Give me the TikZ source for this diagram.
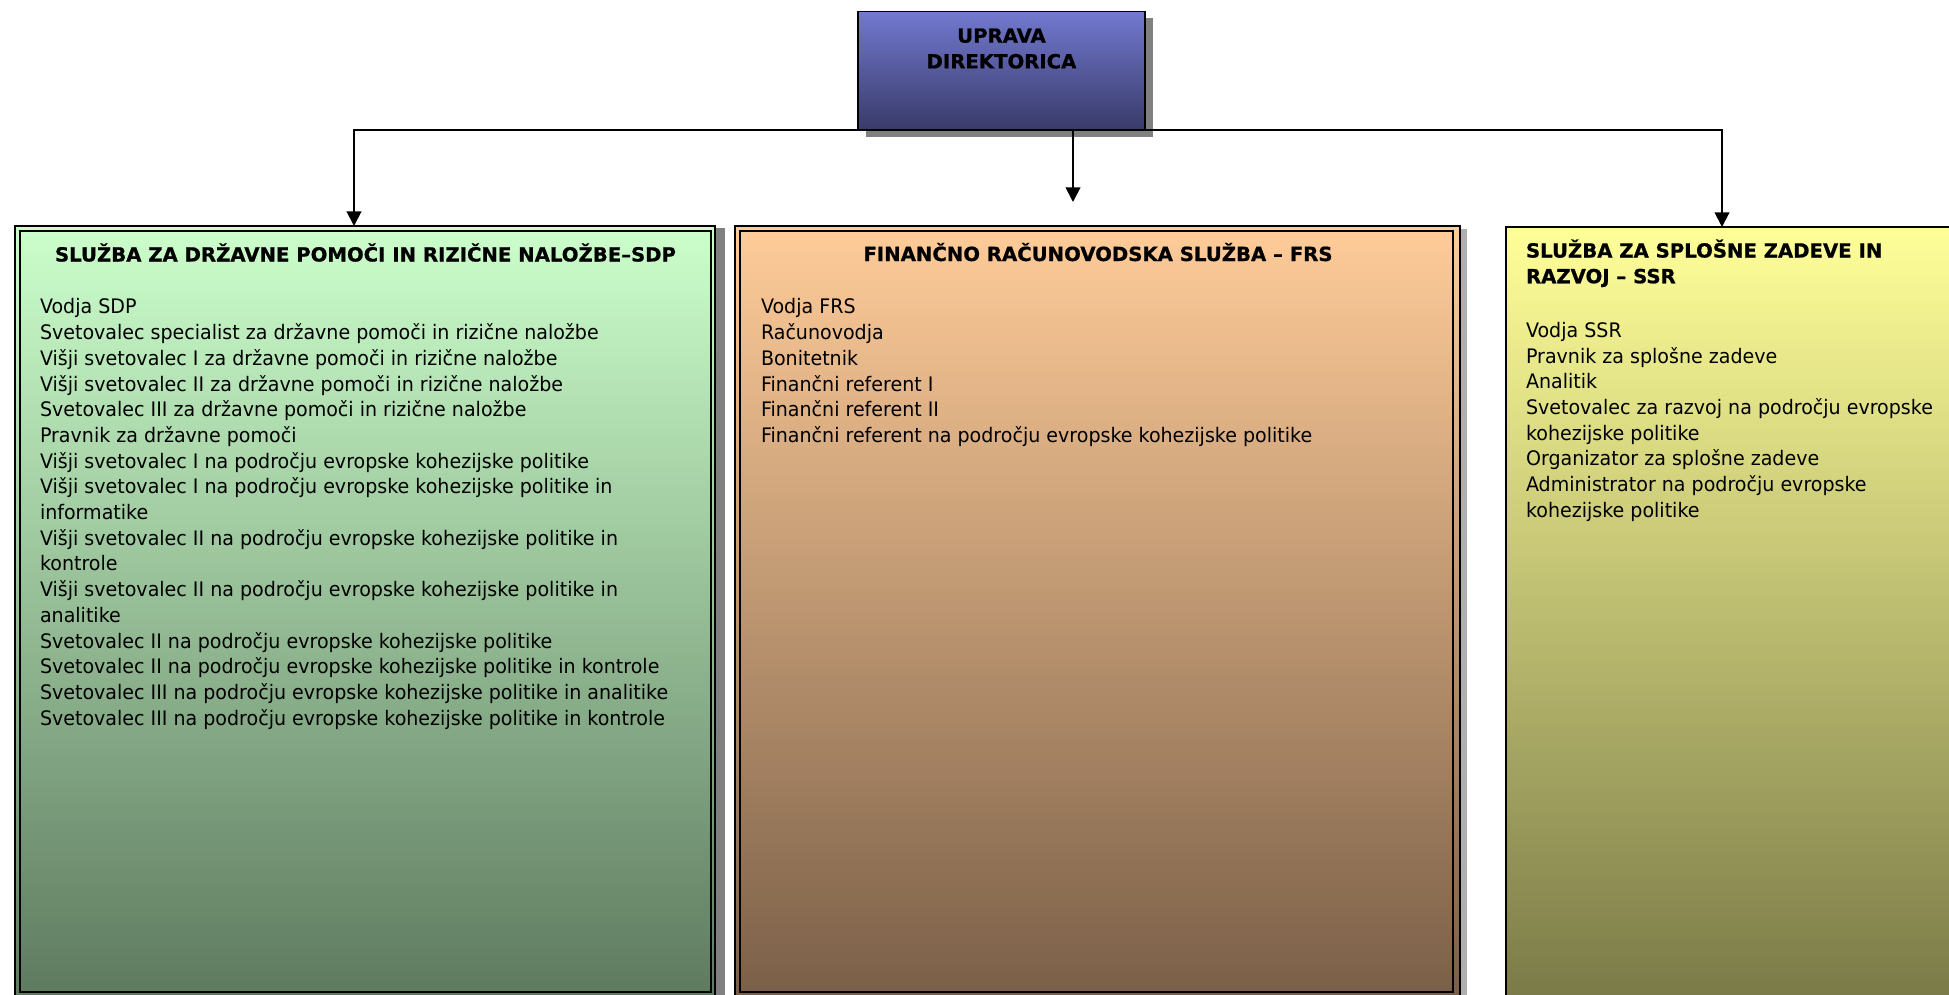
\documentclass[tikz,border=0pt]{standalone}
\usepackage{fontspec}
\setmainfont{DejaVu Sans}[BoldFeatures={FakeBold=0.8}]
\usetikzlibrary{arrows.meta,shadows}
\definecolor{upTop}{RGB}{114,121,207}
\definecolor{upBot}{RGB}{56,58,104}
\definecolor{gTop}{RGB}{204,255,204}
\definecolor{gBot}{RGB}{94,122,95}
\definecolor{oTop}{RGB}{255,204,153}
\definecolor{oBot}{RGB}{122,95,72}
\definecolor{yTop}{RGB}{255,255,153}
\definecolor{yBot}{RGB}{122,122,72}
\definecolor{shadowA}{RGB}{128,128,128}
\definecolor{shadowB}{RGB}{175,175,175}
\newlength\wreg
\newlength\wbold
\newcommand\regfnt{\fontsize{15}{19.275}\selectfont}
\newcommand\boldfnt{\fontsize{14.6}{19.275}\selectfont\bfseries}
\begin{document}
\settowidth\wreg{\regfnt Svetovalec III na področju evropske kohezijske politike in kontrole}%
\settowidth\wbold{\boldfnt SLUŽBA ZA DRŽAVNE POMOČI IN RIZIČNE NALOŽBE–SDP}%
\pgfmathsetmacro\regfac{468.75/\wreg}%
\pgfmathsetmacro\boldfac{465.75/\wbold}%
\begin{tikzpicture}[x=0.75pt,y=-0.75pt]
\tikzset{
  boxline/.style={draw=black, line width=1.5pt, outer sep=0pt, inner sep=0pt},
  innerline/.style={draw=black, line width=1.5pt},
  conn/.style={line width=1.5pt, -{Triangle[length=11pt,width=11pt]}},
  bodytxt/.style={inner sep=0pt, outer sep=0pt, align=left, anchor=north west,
    font=\regfnt, xscale=\regfac, transform shape},
  ttltxt/.style={inner sep=0pt, outer sep=0pt, font=\boldfnt, xscale=\boldfac, transform shape}
}
\useasboundingbox (0,0) rectangle (1949,995);
\clip (0,0) rectangle (1949,995);

% shadows of the boxes
\fill[shadowA] (24,228) rectangle (725,1000);
\fill[shadowB] (744,229) rectangle (1467,1000);

% boxes
\node[boxline, top color=gTop, bottom color=gBot,
  minimum width=525pt, minimum height=577.875pt] (sdp) at (365,611.25) {};
\draw[innerline] ([shift={(5,5)}]sdp.north west) rectangle ([shift={(-4,-4.5)}]sdp.south east);

\node[boxline, top color=oTop, bottom color=oBot,
  minimum width=543.375pt, minimum height=577.875pt] (frs) at (1097.25,611.25) {};
\draw[innerline] ([shift={(5,5)}]frs.north west) rectangle ([shift={(-6.5,-4.5)}]frs.south east);

\node[boxline, top color=yTop, bottom color=yBot,
  minimum width=344.25pt, minimum height=579.75pt] (ssr) at (1735.5,613.5) {};

% top box
\node[draw=black, line width=1.2pt, outer sep=0pt, inner sep=0pt,
  top color=upTop, bottom color=upBot,
  minimum width=215.25pt, minimum height=89.25pt,
  drop shadow={shadow xshift=6pt, shadow yshift=-5.25pt, fill=shadowA, opacity=1}] (uprava) at (1001.5,71) {};

% connectors
\coordinate (mtip) at (1073,202);
\draw[conn] (uprava.south) -| ([xshift=-8.25pt]sdp.north);
\draw[conn] (uprava.south -| mtip) -- (mtip);
\draw[conn] (uprava.south) -| ([xshift=-10.125pt]ssr.north);

% texts
\node[ttltxt, align=center, anchor=north] (tu) at (1001.5,24.7)
  {\strut UPRAVA\\DIREKTORICA};
\node[ttltxt, anchor=base] (t1) at (365.5,261.5)
  {SLUŽBA ZA DRŽAVNE POMOČI IN RIZIČNE NALOŽBE–SDP};
\node[ttltxt, anchor=base] (t2) at (1098,261)
  {FINANČNO RAČUNOVODSKA SLUŽBA – FRS};
\node[ttltxt, align=left, anchor=north west] (t3) at (1526,239.5)
  {\strut SLUŽBA ZA SPLOŠNE ZADEVE IN\\RAZVOJ – SSR};

\node[bodytxt] (b1) at (40,296) {\strut Vodja SDP\\
Svetovalec specialist za državne pomoči in rizične naložbe\\
Višji svetovalec I za državne pomoči in rizične naložbe\\
Višji svetovalec II za državne pomoči in rizične naložbe\\
Svetovalec III za državne pomoči in rizične naložbe\\
Pravnik za državne pomoči\\
Višji svetovalec I na področju evropske kohezijske politike\\
Višji svetovalec I na področju evropske kohezijske politike in\\
informatike\\
Višji svetovalec II na področju evropske kohezijske politike in\\
kontrole\\
Višji svetovalec II na področju evropske kohezijske politike in\\
analitike\\
Svetovalec II na področju evropske kohezijske politike\\
Svetovalec II na področju evropske kohezijske politike in kontrole\\
Svetovalec III na področju evropske kohezijske politike in analitike\\
Svetovalec III na področju evropske kohezijske politike in kontrole};

\node[bodytxt] (b2) at (761,296) {\strut Vodja FRS\\
Računovodja\\
Bonitetnik\\
Finančni referent I\\
Finančni referent II\\
Finančni referent na področju evropske kohezijske politike};

\node[bodytxt] (b3) at (1526,319.5) {\strut Vodja SSR\\
Pravnik za splošne zadeve\\
Analitik\\
Svetovalec za razvoj na področju evropske\\
kohezijske politike\\
Organizator za splošne zadeve\\
Administrator na področju evropske\\
kohezijske politike};
\end{tikzpicture}
\end{document}
